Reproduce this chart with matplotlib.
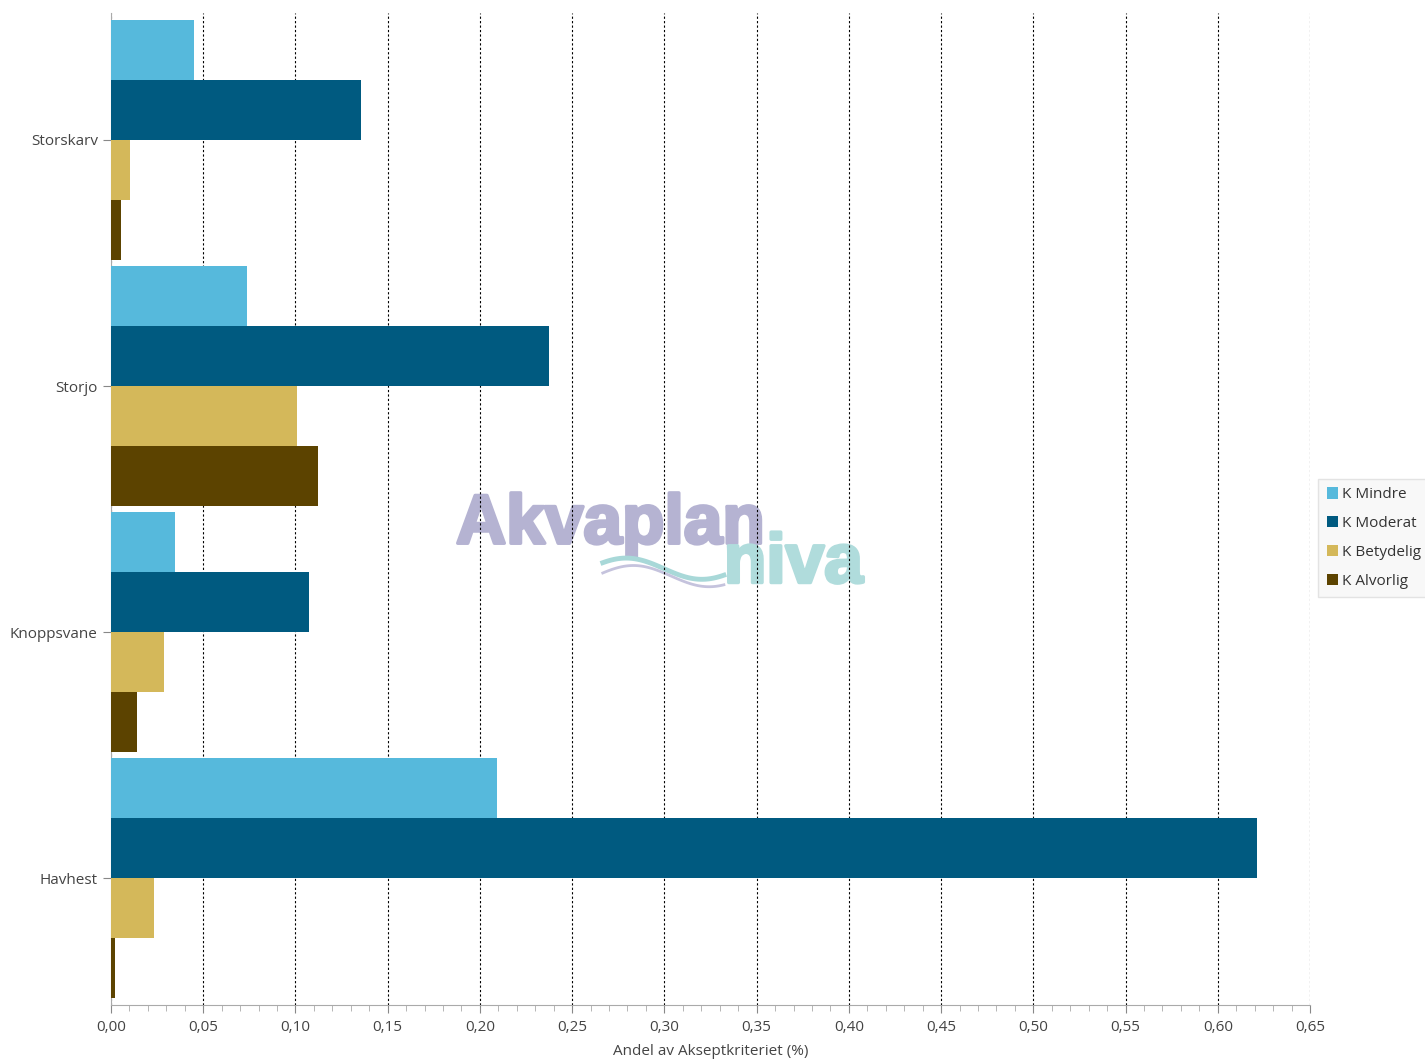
import numpy as np
import matplotlib.pyplot as plt
import matplotlib.patheffects as pe
from matplotlib.patches import Patch
from matplotlib.ticker import MultipleLocator, FuncFormatter

# Data
arter = ['Storskarv', 'Storjo', 'Knoppsvane', 'Havhest']
serier = ['K Mindre', 'K Moderat', 'K Betydelig', 'K Alvorlig']
mindre = [0.045, 0.0737, 0.0347, 0.2093]
moderat = [0.1355, 0.2375, 0.1073, 0.6213]
betydelig = [0.0103, 0.1008, 0.0287, 0.0233]
alvorlig = [0.0054, 0.1122, 0.0141, 0.0022]
farger = ['#56b9dc', '#005a80', '#d4b85a', '#5c4300']

plt.rcParams['font.family'] = ['Open Sans', 'DejaVu Sans']

fig = plt.figure(figsize=(14.25, 10.61), dpi=100)
ax = fig.add_axes([0.0779, 0.0528, 0.8414, 0.9349])

y = np.arange(len(arter))
h = 0.244
for i, (vals, c) in enumerate(zip([mindre, moderat, betydelig, alvorlig], farger)):
    ax.barh(y + (i - 1.5) * h, vals, height=h, color=c, zorder=3)

ax.set_ylim(3.516, -0.516)
ax.set_xlim(0, 0.65)
ax.set_yticks(y)
ax.set_yticklabels(arter)
ax.xaxis.set_major_locator(MultipleLocator(0.05))
ax.xaxis.set_minor_locator(MultipleLocator(0.01))
ax.xaxis.set_major_formatter(FuncFormatter(lambda v, p: f'{v:.2f}'.replace('.', ',')))
ax.grid(axis='x', which='major', color='black', linestyle=(0, (2, 2)), linewidth=0.8, zorder=1)

for s in ['top', 'right']:
    ax.spines[s].set_visible(False)
for s in ['left', 'bottom']:
    ax.spines[s].set_color('#aaaaaa')
ax.tick_params(axis='both', colors='#888888', labelcolor='#444444', labelsize=11)
ax.tick_params(axis='x', which='major', length=6, pad=5)
ax.tick_params(axis='x', which='minor', length=4, color='#aaaaaa')
ax.tick_params(axis='y', length=6)
ax.set_xlabel('Andel av Akseptkriteriet (%)', fontsize=11, color='#444444', labelpad=6)

# watermark (under grid)
stroke = [pe.withStroke(linewidth=2.5, foreground='#b5b3d2')]
ax.text(0.32, 0.488, 'Akvaplan', fontsize=50, fontweight='bold', color='#b5b3d2',
        family='Liberation Sans', zorder=0.5, transform=fig.transFigure, path_effects=stroke)
ax.text(0.508, 0.451, 'niva', fontsize=50, fontweight='bold', color='#b0dcdc',
        family='Liberation Sans', zorder=0.5, transform=fig.transFigure,
        path_effects=[pe.withStroke(linewidth=2.5, foreground='#b0dcdc')])
t = np.linspace(0, 1, 100)
wx = 0.423 + 0.085 * t
wave1 = 0.464 + 0.010 * np.sin(np.pi * t * 1.6 + 0.6)
wave2 = 0.457 + 0.010 * np.sin(np.pi * t * 1.6 + 0.3)
ax.plot(wx, wave1, color='#a8d8d8', linewidth=3.5, zorder=0.5, transform=fig.transFigure)
ax.plot(wx, wave2, color='#c5c3dd', linewidth=2, zorder=0.5, transform=fig.transFigure)

handles = [Patch(facecolor=c, edgecolor='none') for c in farger]
leg = fig.legend(handles, serier, loc='center left', bbox_to_anchor=(0.925, 0.493),
                 fontsize=11, frameon=True, handlelength=0.75, handleheight=0.75,
                 handletextpad=0.25, labelspacing=0.9, borderpad=0.55, borderaxespad=0,
                 fancybox=False)
leg.get_frame().set_facecolor('#f7f7f7')
leg.get_frame().set_edgecolor('#dddddd')
for txt in leg.get_texts():
    txt.set_color('#333333')

fig.savefig('out.png', dpi=100)
